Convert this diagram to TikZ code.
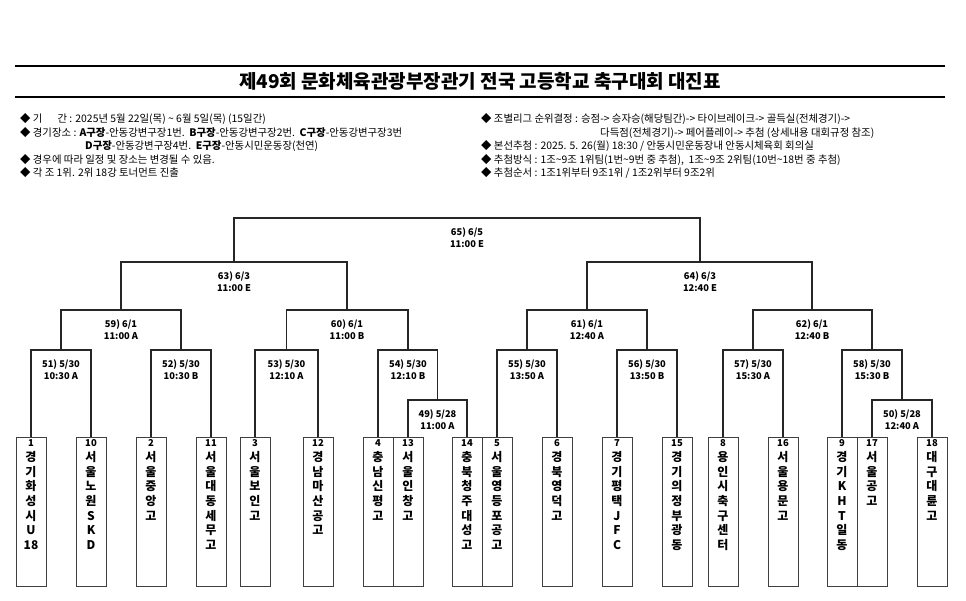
\documentclass[tikz,border=0pt]{standalone}
\usepackage{fontspec}
\setmainfont{Noto Sans CJK KR}
\begin{document}
\begin{tikzpicture}[x=1pt,y=-1pt,
  br/.style={line width=1.3pt,draw=black!85},
  lab/.style={anchor=north,align=center,font=\bfseries\fontsize{9.3}{12}\selectfont,inner sep=0pt},
  team/.style={draw=black!75,line width=0.9pt,minimum width=30pt,minimum height=149pt,inner sep=0pt},
  tname/.style={anchor=north,align=center,font=\bfseries\fontsize{12}{14.7}\selectfont,inner sep=0pt,yshift=-3pt},
  note/.style={anchor=west,font=\fontsize{10.4}{11}\selectfont,inner sep=0pt}]
\useasboundingbox (0,0) rectangle (966,600);
% title
\draw[line width=1.6pt] (15,66) -- (945,66);
\draw[line width=1.6pt] (15,97) -- (945,97);
\node[font=\bfseries\fontsize{19}{21}\selectfont] (title) at (480,81) {제49회 문화체육관광부장관기 전국 고등학교 축구대회 대진표};
% notes left
\node[note] (n1) at (20,119) {◆ 기\quad\ \ 간 : 2025년 5월 22일(목) \textasciitilde{} 6월 5일(목) (15일간)};
\node[note] (n2) at (20,133) {◆ 경기장소 : \textbf{A구장}-안동강변구장1번.\ \ \textbf{B구장}-안동강변구장2번.\ \ \textbf{C구장}-안동강변구장3번};
\node[note] (n3) at (85,146) {\textbf{D구장}-안동강변구장4번.\ \ \textbf{E구장}-안동시민운동장(천연)};
\node[note] (n4) at (20,160) {◆ 경우에 따라 일정 및 장소는 변경될 수 있음.};
\node[note] (n5) at (20,173) {◆ 각 조 1위. 2위 18강 토너먼트 진출};
% notes right
\node[note] (r1) at (481,119) {◆ 조별리그 순위결정 : 승점-> 승자승(해당팀간)-> 타이브레이크-> 골득실(전체경기)->};
\node[note] (r2) at (600,133) {다득점(전체경기)-> 페어플레이-> 추첨 (상세내용 대회규정 참조)};
\node[note] (r3) at (481,146) {◆ 본선추첨 : 2025. 5. 26(월) 18:30 / 안동시민운동장내 안동시체육회 회의실};
\node[note] (r4) at (481,160) {◆ 추첨방식 : 1조\textasciitilde9조 1위팀(1번\textasciitilde9번 중 추첨),\ \ 1조\textasciitilde9조 2위팀(10번\textasciitilde18번 중 추첨)};
\node[note] (r5) at (481,173) {◆ 추첨순서 : 1조1위부터 9조1위 / 1조2위부터 9조2위};
% teams
\newcommand\tm[4]{\node[team] (t#1) at (#2,511.5) {};
  \node[tname] (tn#1) at (t#1.north) {{\fontsize{9.5}{11}\selectfont #3}\\#4};}
\tm{1}{31}{1}{경\\기\\화\\성\\시\\U\\18}
\tm{10}{91}{10}{서\\울\\노\\원\\S\\K\\D}
\tm{2}{151}{2}{서\\울\\중\\앙\\고}
\tm{11}{211}{11}{서\\울\\대\\동\\세\\무\\고}
\tm{3}{255}{3}{서\\울\\보\\인\\고}
\tm{12}{318}{12}{경\\남\\마\\산\\공\\고}
\tm{4}{378}{4}{충\\남\\신\\평\\고}
\tm{13}{408}{13}{서\\울\\인\\창\\고}
\tm{14}{467}{14}{충\\북\\청\\주\\대\\성\\고}
\tm{5}{497}{5}{서\\울\\영\\등\\포\\공\\고}
\tm{6}{557}{6}{경\\북\\영\\덕\\고}
\tm{7}{617}{7}{경\\기\\평\\택\\J\\F\\C}
\tm{15}{677}{15}{경\\기\\의\\정\\부\\광\\동}
\tm{8}{723}{8}{용\\인\\시\\축\\구\\센\\터}
\tm{16}{783}{16}{서\\울\\용\\문\\고}
\tm{9}{842}{9}{경\\기\\K\\H\\T\\일\\동}
\tm{17}{872}{17}{서\\울\\공\\고}
\tm{18}{932}{18}{대\\구\\대\\륜\\고}
% matches
\newcommand\mt[6]{\coordinate (m#1) at (#2,#3);
  \draw[br] (#4) |- (m#1) -| (#5);
  \node[lab] (l#1) at ([yshift=-9pt]m#1) {#6};}
\mt{49}{437.5}{400}{t13.north}{t14.north}{49) 5/28\\11:00 A}
\mt{50}{902}{400}{t17.north}{t18.north}{50) 5/28\\12:40 A}
\mt{51}{61}{350}{t1.north}{t10.north}{51) 5/30\\10:30 A}
\mt{52}{181}{350}{t2.north}{t11.north}{52) 5/30\\10:30 B}
\mt{53}{286.5}{350}{t3.north}{t12.north}{53) 5/30\\12:10 A}
\mt{54}{408}{350}{t4.north}{m49}{54) 5/30\\12:10 B}
\mt{55}{527}{350}{t5.north}{t6.north}{55) 5/30\\13:50 A}
\mt{56}{647}{350}{t7.north}{t15.north}{56) 5/30\\13:50 B}
\mt{57}{753}{350}{t8.north}{t16.north}{57) 5/30\\15:30 A}
\mt{58}{872}{350}{t9.north}{m50}{58) 5/30\\15:30 B}
\mt{59}{121}{310}{m51}{m52}{59) 6/1\\11:00 A}
\mt{60}{347}{310}{m53}{m54}{60) 6/1\\11:00 B}
\mt{61}{587}{310}{m55}{m56}{61) 6/1\\12:40 A}
\mt{62}{812}{310}{m57}{m58}{62) 6/1\\12:40 B}
\mt{63}{234}{262}{m59}{m60}{63) 6/3\\11:00 E}
\mt{64}{700}{262}{m61}{m62}{64) 6/3\\12:40 E}
\mt{65}{467}{218}{m63}{m64}{65) 6/5\\11:00 E}
\end{tikzpicture}
\end{document}
